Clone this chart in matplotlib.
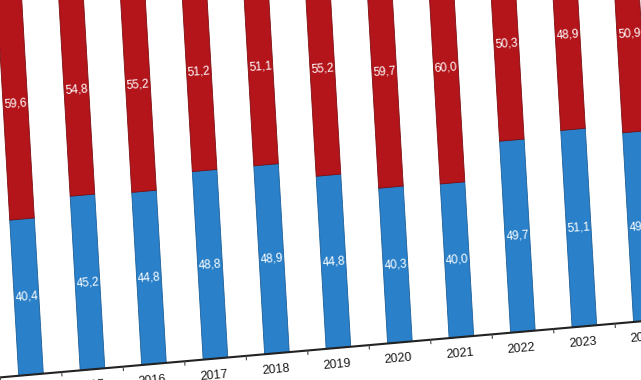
import numpy as np
import matplotlib
matplotlib.use("Agg")
import matplotlib.pyplot as plt
from matplotlib.transforms import Affine2D

# Datos (porcentajes, la foto del grafico esta inclinada)
years = ["2014", "2015", "2016", "2017", "2018", "2019", "2020", "2021", "2022", "2023", "2024"]
red_vals = [59.6, 54.8, 55.2, 51.2, 51.1, 55.2, 59.7, 60.0, 50.3, 48.9, 50.9]
blue_vals = [40.4, 45.2, 44.8, 48.8, 48.9, 44.8, 40.3, 40.0, 49.7, 51.1, 49.1]

RED = "#B3151B"
BLUE = "#2A81C9"
FONT = "Liberation Sans"

W, H, DPI = 641, 380, 100
fig = plt.figure(figsize=(W / DPI, H / DPI), dpi=DPI)

# pivote (pixeles) = base de la primera barra
px, py = 31, 5.3
step = 61.72   # px por categoria a lo largo de la base
full = 386     # px para 100 %
ax = fig.add_axes([(px - 0.5 * step) / W, py / H, 11 * step / W, full / H])

# inclinacion: base sube ~5 grados, barras ~3.3 grados
a_base = np.radians(5.0)
a_bar = np.radians(3.3)
mat = np.array([[np.cos(a_base), -np.sin(a_bar), 0],
                [np.sin(a_base), np.cos(a_bar), 0],
                [0, 0, 1]])
skew = Affine2D().translate(-px, -py) + Affine2D(mat) + Affine2D().translate(px, py)
tr = ax.transData + skew

x = np.arange(len(years))
b1 = ax.bar(x, blue_vals, width=0.40, color=BLUE, edgecolor="#1c5e98", linewidth=0.6)
b2 = ax.bar(x, red_vals, width=0.40, bottom=blue_vals, color=RED, edgecolor="#7c0d11", linewidth=0.6)
for p in list(b1) + list(b2):
    p.set_transform(tr)
    p.set_clip_on(False)

ax.set_xlim(-0.5, 10.5)
ax.set_ylim(0, 100)
ax.axis("off")

def fmt(v):
    return f"{v:.1f}".replace(".", ",")

for i in range(len(years)):
    ax.text(x[i], blue_vals[i] / 2, fmt(blue_vals[i]), transform=tr, ha="center", va="center",
            color="white", fontsize=8.5, family=FONT, rotation=4, clip_on=False)
    ax.text(x[i], blue_vals[i] + red_vals[i] / 2, fmt(red_vals[i]), transform=tr, ha="center", va="center",
            color="white", fontsize=8.5, family=FONT, rotation=4, clip_on=False)
    ax.text(x[i] - 0.04, -4.3, years[i], transform=tr, ha="center", va="center",
            color="#1a1a1a", fontsize=9, family=FONT, rotation=5, clip_on=False)

# linea base y marcas
ax.plot([-1, 11], [0, 0], color="#222222", lw=1.5, transform=tr, clip_on=False)
for t in np.arange(-0.5, 11, 1):
    ax.plot([t, t], [0, -1.0], color="#444444", lw=0.8, transform=tr, clip_on=False)

fig.savefig("out.png", dpi=DPI)
